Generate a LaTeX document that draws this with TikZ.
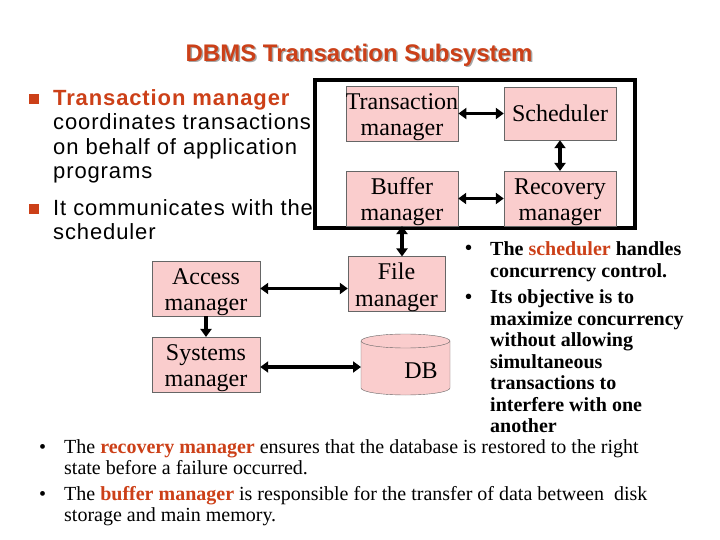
\documentclass[tikz,border=0pt]{standalone}
\usepackage{fontspec}
\setmainfont{Liberation Serif}
\setsansfont{Liberation Sans}
\newfontfamily\leftfam[LetterSpace=4]{Liberation Sans}
\usepackage{xcolor}
\usetikzlibrary{arrows.meta, positioning}

\definecolor{accent}{RGB}{204,64,24}
\definecolor{boxpink}{RGB}{250,205,205}
\newcommand{\titlefont}{\sffamily\bfseries\fontsize{24bp}{28bp}\selectfont}
\newcommand{\leftfont}{\leftfam\fontsize{22bp}{24.5bp}\selectfont}
\newcommand{\boxfont}{\fontsize{24bp}{26.5bp}\selectfont}
\newcommand{\notefont}{\bfseries\fontsize{20bp}{21.5bp}\selectfont}
\newcommand{\footfont}{\fontsize{20bp}{21bp}\selectfont}
\newcommand{\hl}[1]{\textcolor{accent}{\textbf{#1}}}
\newcommand{\drop}{\rule{0pt}{23bp}}

\begin{document}
\begin{tikzpicture}[x=1bp, y=-1bp, >={Triangle[length=8bp, width=11bp]},
    module/.style={draw=black!60, fill=boxpink, inner sep=0pt,
        minimum width=112bp, minimum height=53bp, align=center, font=\boxfont},
    link/.style={line width=3.5bp, <->},
    sqbullet/.style={fill=accent, inner sep=0pt, minimum size=10bp},
    every node/.style={inner sep=0pt}]
    \useasboundingbox (0,0) rectangle (720,540);

    % title
    \node[font=\titlefont, text=black!35] (titleshadow) at (360.5,56.5) {DBMS Transaction Subsystem};
    \node[font=\titlefont, text=accent] (title) at (359,55) {DBMS Transaction Subsystem};

    % left bullets
    \node[sqbullet] (b1) at (34,99) {};
    \node[font=\leftfont, anchor=north west, align=left] (item1) at (53,89)
        {\textbf{\textcolor{accent}{Transaction manager}}\\coordinates transactions\\on behalf of application\\programs};
    \node[sqbullet] (b2) at (34,209) {};
    \node[font=\leftfont, anchor=north west, align=left] (item2) at (53,199)
        {It communicates with the\\scheduler};

    % subsystem frame
    \node[draw, line width=4bp, minimum width=320bp, minimum height=148bp] (frame) at (475,154) {};

    % modules
    \node[module] (tm) at (402,113.5) {\drop Transaction\\manager};
    \node[module] (sched) at (560,113.5) {Scheduler};
    \node[module] (buf) at (402,198.5) {\drop Buffer\\manager};
    \node[module] (rec) at (560,198.5) {\drop Recovery\\manager};
    \node[module, minimum width=97bp] (file) at (396.5,284) {\drop File\\manager};
    \node[module, minimum width=108bp, minimum height=51bp] (access) at (206,288.5) {\drop Access\\manager};
    \node[module, minimum width=108bp, minimum height=51bp] (sys) at (206,364.5) {\drop Systems\\manager};

    % database drum
    \draw[draw=black!60, fill=boxpink] (361,341) -- (361,388)
        arc[start angle=180, end angle=0, x radius=44.5, y radius=7] -- (450,341)
        arc[start angle=0, end angle=-180, x radius=44.5, y radius=7] -- cycle;
    \draw[black!60] (361,341) arc[start angle=180, end angle=0, x radius=44.5, y radius=7];
    \coordinate (db) at (361,367);
    \node[font=\boxfont] (dblabel) at (421,371) {DB};

    % connectors
    \draw[link] (tm) -- (sched);
    \draw[link] (sched) -- (rec);
    \draw[link] (buf) -- (rec);
    \draw[link] (buf.south) -- (buf.south |- file.north);
    \draw[link] (access.east) -- (access.east -| file.west);
    \draw[line width=3.5bp, ->] (access) -- (sys);
    \draw[link] (sys.east |- db) -- (db);

    % notes on the right
    \node[font=\notefont, anchor=base west] (nb1) at (465,255) {•};
    \node[font=\notefont, anchor=north west, align=left] (note1) at (490,241.5)
        {The \textcolor{accent}{scheduler} handles\\concurrency control.};
    \node[font=\notefont, anchor=base west] (nb2) at (465,303) {•};
    \node[font=\notefont, anchor=north west, align=left] (note2) at (490,289.5)
        {Its objective is to\\maximize concurrency\\without allowing\\simultaneous\\transactions to\\interfere with one\\another};

    % notes at the bottom
    \node[font=\footfont, anchor=base west] (fb1) at (39,453) {•};
    \node[font=\footfont, anchor=north west, align=left] (foot1) at (64,439.5)
        {The \hl{recovery manager} ensures that the database is restored to the right\\state before a failure occurred.};
    \node[font=\footfont, anchor=base west] (fb2) at (39,500) {•};
    \node[font=\footfont, anchor=north west, align=left] (foot2) at (64,486.5)
        {The \hl{buffer manager} is responsible for the transfer of data between\ \ disk\\storage and main memory.};
\end{tikzpicture}
\end{document}
